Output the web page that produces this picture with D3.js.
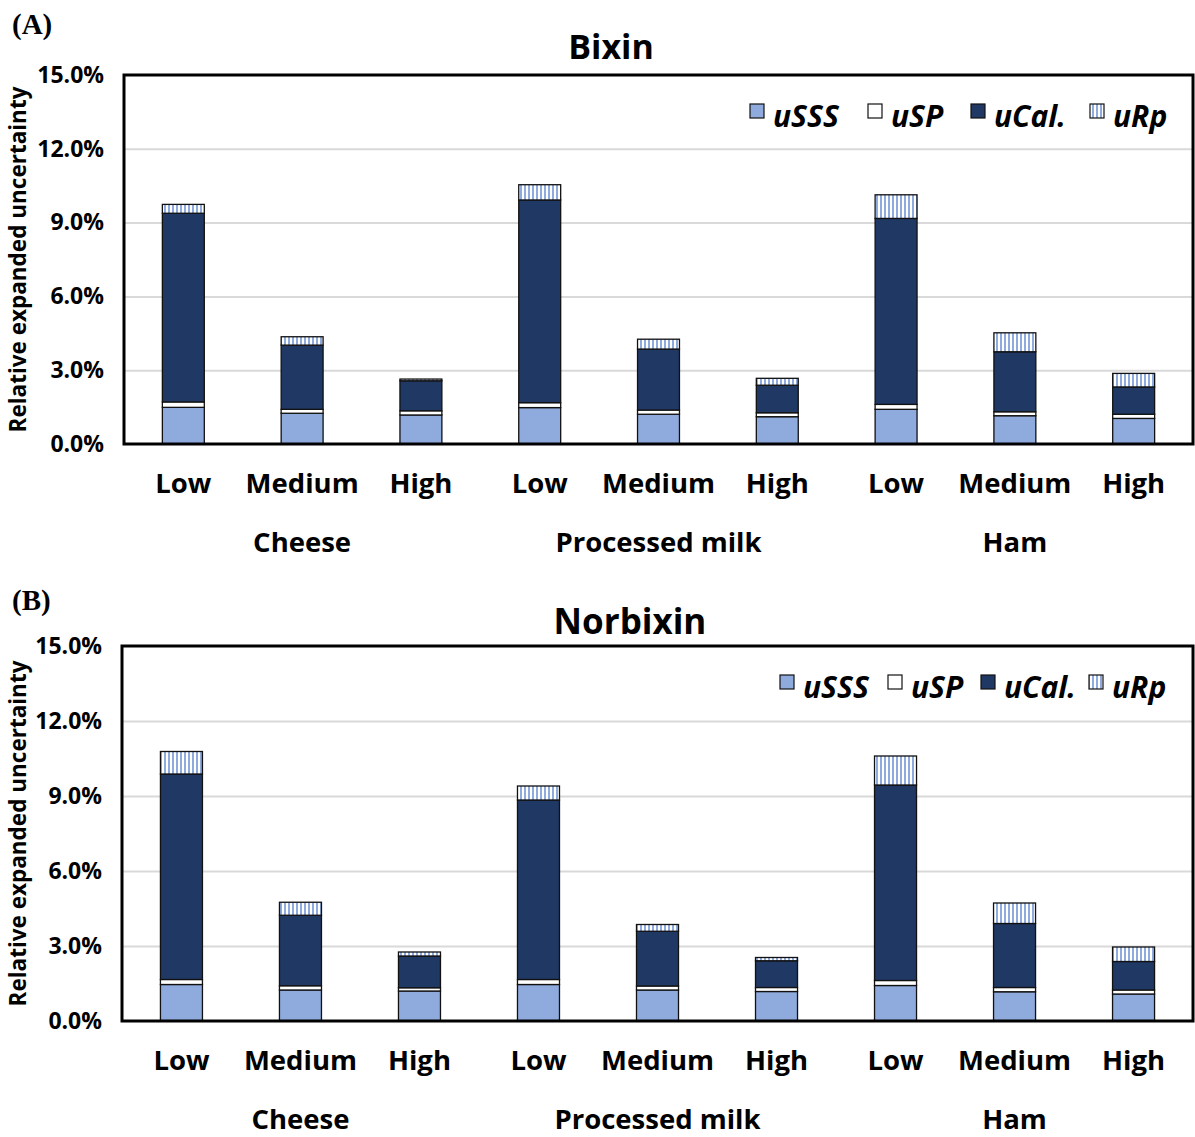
<!DOCTYPE html>
<html>
<head>
<meta charset="utf-8">
<script src="https://cdn.jsdelivr.net/npm/d3@7"></script>
<style>
  body { margin: 0; background: #fff; }
  svg { display: block; }
  text { font-family: "Open Sans", "Noto Sans", sans-serif; font-weight: bold; fill: #000; }
</style>
</head>
<body>
<div id="chart"></div>
<script>
// 데이터
const groups = ["Cheese", "Processed milk", "Ham"];
const levels = ["Low", "Medium", "High"];
const components = ["uSSS", "uSP", "uCal.", "uRp"];
const yTicks = [0, 3, 6, 9, 12, 15];

// Bixin (%), 막대 순서: Cheese L/M/H, Processed milk L/M/H, Ham L/M/H
const bixinSSS = [1.49, 1.25, 1.18, 1.48, 1.21, 1.11, 1.41, 1.15, 1.04];
const bixinSP  = [0.22, 0.16, 0.17, 0.20, 0.17, 0.16, 0.20, 0.16, 0.17];
const bixinCal = [7.67, 2.61, 1.22, 8.24, 2.48, 1.12, 7.56, 2.44, 1.11];
const bixinRp  = [0.36, 0.34, 0.07, 0.62, 0.40, 0.28, 0.96, 0.77, 0.55];

// Norbixin (%)
const norSSS = [1.46, 1.24, 1.20, 1.46, 1.24, 1.18, 1.42, 1.17, 1.08];
const norSP  = [0.20, 0.17, 0.13, 0.20, 0.16, 0.16, 0.20, 0.17, 0.16];
const norCal = [8.22, 2.82, 1.27, 7.18, 2.19, 1.07, 7.82, 2.56, 1.14];
const norRp  = [0.90, 0.52, 0.16, 0.56, 0.27, 0.13, 1.16, 0.82, 0.58];

const W = 1195, H = 1137;
const fills = ["#8faadc", "#ffffff", "#203864", "url(#stripes)"];

const svg = d3.select("#chart").append("svg")
	.attr("width", W)
	.attr("height", H);

// 세로 줄무늬 패턴 (uRp)
const pat = svg.append("defs").append("pattern")
	.attr("id", "stripes")
	.attr("patternUnits", "userSpaceOnUse")
	.attr("width", 4)
	.attr("height", 4);
pat.append("rect").attr("width", 4).attr("height", 4).attr("fill", "#fff");
pat.append("rect").attr("width", 2).attr("height", 4).attr("fill", "#8faadc");

const bars = [];
groups.forEach(g => levels.forEach(l => bars.push(g + "|" + l)));

function drawPanel(cfg) {
	const { left, right, top, bottom } = cfg.box;
	const g = svg.append("g");

	const x = d3.scaleBand().domain(bars).range([left, right]).paddingInner(0.647).paddingOuter(0.323);
	const y = d3.scaleLinear().domain([0, 15]).range([bottom, top]);

	// 패널 라벨
	g.append("text")
		.attr("x", 12).attr("y", cfg.tagY)
		.style("font-family", "'Liberation Serif', 'DejaVu Serif', serif")
		.style("font-size", "29px")
		.text(cfg.tag);

	// 제목
	g.append("text")
		.attr("x", cfg.titleX).attr("y", cfg.titleY)
		.attr("text-anchor", "middle")
		.style("font-size", cfg.titleSize)
		.text(cfg.title);

	// 격자선
	g.append("g")
		.attr("transform", `translate(${left},0)`)
		.call(d3.axisLeft(y).tickValues(yTicks.slice(1, -1)).tickSize(-(right - left)).tickFormat(""))
		.call(a => a.select(".domain").remove())
		.selectAll("line")
		.attr("stroke", "#d9d9d9")
		.attr("stroke-width", 2);

	// y축 라벨
	g.append("g")
		.attr("transform", `translate(${left},0)`)
		.call(d3.axisLeft(y).tickValues(yTicks).tickSize(0).tickPadding(20).tickFormat(d => d.toFixed(1) + "%"))
		.call(a => a.select(".domain").remove())
		.selectAll("text")
		.style("font-family", "'Open Sans', sans-serif")
		.style("font-weight", "bold")
		.style("font-size", "23px")
		.attr("fill", "#000");

	g.append("text")
		.attr("transform", `translate(26,${(top + bottom) / 2}) rotate(-90)`)
		.attr("text-anchor", "middle")
		.style("font-size", "22.5px")
		.text("Relative expanded uncertainty");

	// 누적 막대
	const rows = bars.map((b, i) => ({ key: b, vals: cfg.series.map(s => s[i]) }));
	rows.forEach(r => {
		let acc = 0;
		r.vals.forEach((v, k) => {
			g.append("rect")
				.attr("x", x(r.key))
				.attr("width", x.bandwidth())
				.attr("y", y(acc + v))
				.attr("height", y(acc) - y(acc + v))
				.attr("fill", fills[k])
				.attr("stroke", "#111")
				.attr("stroke-width", 1.3);
			acc += v;
		});
	});

	// 외곽 프레임
	g.append("rect")
		.attr("x", left).attr("y", top)
		.attr("width", right - left).attr("height", bottom - top)
		.attr("fill", "none")
		.attr("stroke", "#000")
		.attr("stroke-width", 3);

	// x축 라벨
	g.selectAll(".lvl")
		.data(bars)
		.join("text")
		.attr("class", "lvl")
		.attr("x", d => x(d) + x.bandwidth() / 2)
		.attr("y", bottom + 49)
		.attr("text-anchor", "middle")
		.style("font-size", "27.5px")
		.text(d => d.split("|")[1]);

	g.selectAll(".grp")
		.data(groups)
		.join("text")
		.attr("class", "grp")
		.attr("x", d => x(d + "|Medium") + x.bandwidth() / 2)
		.attr("y", bottom + 108)
		.attr("text-anchor", "middle")
		.style("font-size", "27.5px")
		.text(d => d);

	// 범례
	components.forEach((c, k) => {
		const lx = cfg.legendX[k];
		g.append("rect")
			.attr("x", lx).attr("y", cfg.legendY - 11)
			.attr("width", 14).attr("height", 14)
			.attr("fill", fills[k])
			.attr("stroke", "#111")
			.attr("stroke-width", 1.2);
		g.append("text")
			.attr("x", lx + 23).attr("y", cfg.legendY + 12)
			.style("font-size", "30px")
			.style("font-style", "italic")
			.text(c);
	});
}

drawPanel({
	tag: "(A)", tagY: 34,
	title: "Bixin", titleX: 611, titleY: 59, titleSize: "34px",
	box: { left: 124, right: 1193, top: 75, bottom: 444 },
	series: [bixinSSS, bixinSP, bixinCal, bixinRp],
	legendX: [750, 868, 971, 1090], legendY: 115
});

drawPanel({
	tag: "(B)", tagY: 610,
	title: "Norbixin", titleX: 630, titleY: 634, titleSize: "35px",
	box: { left: 122, right: 1193, top: 646, bottom: 1021 },
	series: [norSSS, norSP, norCal, norRp],
	legendX: [780, 888, 981, 1089], legendY: 686
});
</script>
</body>
</html>
